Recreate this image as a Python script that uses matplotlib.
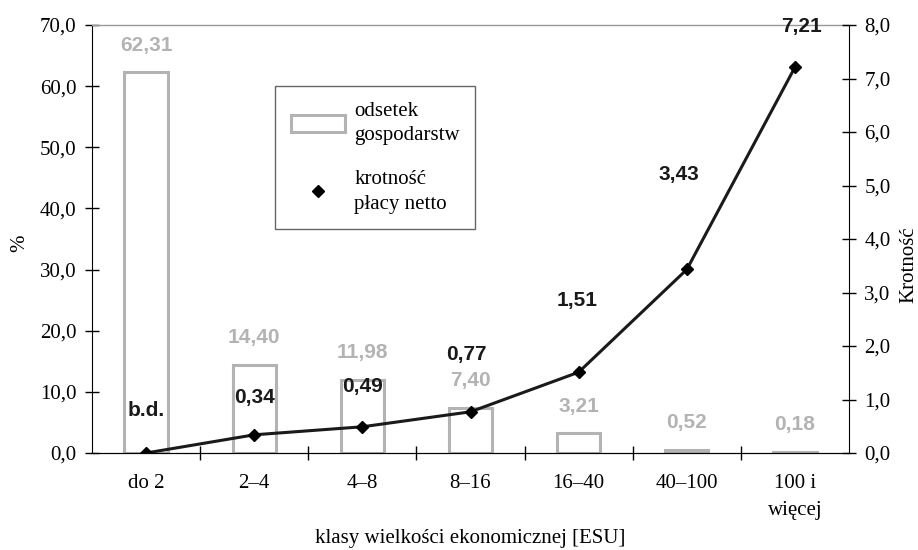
import numpy as np
import matplotlib
matplotlib.use('Agg')
import matplotlib.pyplot as plt
from matplotlib.patches import Patch
from matplotlib.lines import Line2D
from matplotlib.ticker import FuncFormatter

# dane
klasy = ['do 2', '2–4', '4–8', '8–16', '16–40', '40–100', '100 i\nwięcej']
odsetek = [62.31, 14.40, 11.98, 7.40, 3.21, 0.52, 0.18]
krotnosc = [0.0, 0.34, 0.49, 0.77, 1.51, 3.43, 7.21]
krotnosc_etykiety = ['b.d.', '0,34', '0,49', '0,77', '1,51', '3,43', '7,21']

plt.rcParams['font.family'] = 'Liberation Serif'
plt.rcParams['font.size'] = 15

GREY = '#b3b3b3'
fmt = FuncFormatter(lambda v, p: f'{v:.1f}'.replace('.', ','))

fig = plt.figure(figsize=(9.18, 5.5), dpi=100)
ax = fig.add_axes([92 / 918, 1 - 453 / 550, (849 - 92) / 918, (453 - 25) / 550])
x = np.arange(len(klasy))

ax.bar(x, odsetek, width=0.4, facecolor='white', edgecolor=GREY, linewidth=2.2)
for xi, v in zip(x, odsetek):
    ax.annotate(f'{v:.2f}'.replace('.', ','), (xi, v), xytext=(0, 27),
                textcoords='offset pixels', ha='center', va='center',
                family='Liberation Sans', fontweight='bold', fontsize=15, color=GREY)

ax.set_xlim(-0.5, len(klasy) - 0.5)
ax.set_ylim(0, 70)
ax.set_yticks(np.arange(0, 71, 10))
ax.yaxis.set_major_formatter(fmt)
ax.set_xticks(x)
ax.set_xticklabels(klasy, linespacing=1.6)
ax.set_xticks(np.arange(0.5, len(klasy) - 1, 1), minor=True)
ax.tick_params(axis='x', which='major', length=0, pad=15)
ax.tick_params(axis='x', which='minor', direction='inout', length=10, width=1)
ax.tick_params(axis='y', direction='inout', length=10, width=1, pad=6)
ax.spines['top'].set_color('#999999')
ax.spines['top'].set_linewidth(1)
ax.spines['right'].set_visible(False)
ax.set_ylabel('%')
ax.yaxis.set_label_coords(-0.083, 0.49)
ax.set_xlabel('klasy wielkości ekonomicznej [ESU]', labelpad=6)

ax2 = ax.twinx()
ax2.plot(x, krotnosc, color='#1a1a1a', linewidth=2.2, marker='D', markersize=6,
         markerfacecolor='black', markeredgecolor='black', zorder=5)
offs = [(0, 42), (0, 37), (0, 40), (-4, 57), (-2, 72), (-8, 95), (7, 41)]
for xi, v, lab, o in zip(x, krotnosc, krotnosc_etykiety, offs):
    ax2.annotate(lab, (xi, v), xytext=o, textcoords='offset pixels',
                 ha='center', va='center', family='Liberation Sans',
                 fontweight='bold', fontsize=15, color='#1a1a1a')
ax2.set_ylim(0, 8)
ax2.set_yticks(np.arange(0, 9, 1))
ax2.yaxis.set_major_formatter(fmt)
ax2.tick_params(axis='y', direction='inout', length=10, width=1, pad=6)
ax2.spines['top'].set_visible(False)
ax2.spines['left'].set_visible(False)
ax2.set_ylabel('Krotność')
ax2.yaxis.set_label_coords(1.066, 0.44)

handles = [Patch(facecolor='white', edgecolor=GREY, linewidth=2.2),
           Line2D([], [], marker='D', color='black', linestyle='none', markersize=6)]
leg = ax2.legend(handles, ['odsetek\ngospodarstw', 'krotność\npłacy netto'],
                 loc='upper left', bbox_to_anchor=((275 - 92) / 757, (453 - 86) / 428),
                 borderaxespad=0, frameon=True, fancybox=False, edgecolor='#666666',
                 framealpha=1, handlelength=2.6, handleheight=0.9, handletextpad=0.45,
                 labelspacing=1.2, borderpad=0.75, fontsize=15)
leg.get_frame().set_linewidth(1)
for t in leg.get_texts():
    t.set_linespacing(1.4)

fig.savefig('out.png', dpi=100)
